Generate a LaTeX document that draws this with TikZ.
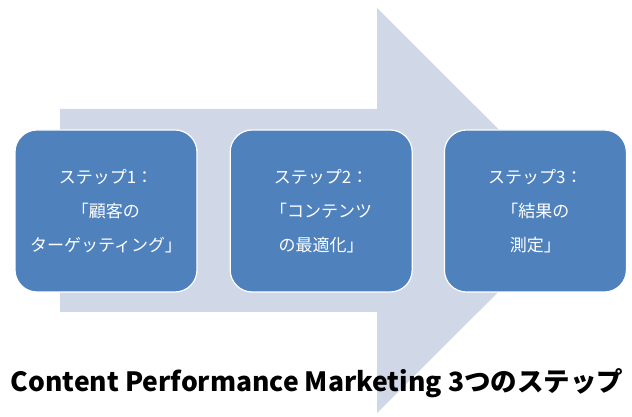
\documentclass[tikz,border=0pt]{standalone}
\usepackage{fontspec}
\usepackage{tikz}
\usetikzlibrary{positioning}
\newfontfamily\jpfont{Noto Sans CJK JP}
\definecolor{arrowfill}{HTML}{D0D8E8}
\definecolor{boxfill}{HTML}{4F81BD}

\begin{document}
\begin{tikzpicture}[
    x=1pt, y=1pt,
    node distance=32pt,
    every node/.style={font=\jpfont},
    % Rounded step boxes
    stepbox/.style={draw=white, line width=1.2pt, fill=boxfill, rounded corners=22pt,
                    minimum width=182pt, minimum height=162pt, inner sep=0pt,
                    align=center, text=white, font=\jpfont\fontsize{17}{34}\selectfont},
    % Big background arrow
    bigarrow/.style={fill=arrowfill, draw=none}
]
\useasboundingbox (0,0) rectangle (632,417);

% === BACKGROUND ARROW ===
\fill[bigarrow] (60,308) -- (377,308) -- (377,409) -- (580,206.5)
    -- (377,4) -- (377,105) -- (60,105) -- cycle;

% === STEPS ===

% Step 1 at left
	\node [stepbox] (step1) at (106,206) {ステップ1：\\「顧客の\\ターゲッティング」};

% Step 2 and step 3 to the right
	\node [stepbox, right=of step1] (step2) {ステップ2：\\「コンテンツ\\の最適化」};
	\node [stepbox, right=31pt of step2] (step3) {ステップ3：\\「結果の\\測定」};

% === TITLE ===
	\node [font=\jpfont\bfseries\fontsize{26.5}{30}\selectfont] (title) at (317,34)
		{Content Performance Marketing 3つのステップ};

\end{tikzpicture}
\end{document}
